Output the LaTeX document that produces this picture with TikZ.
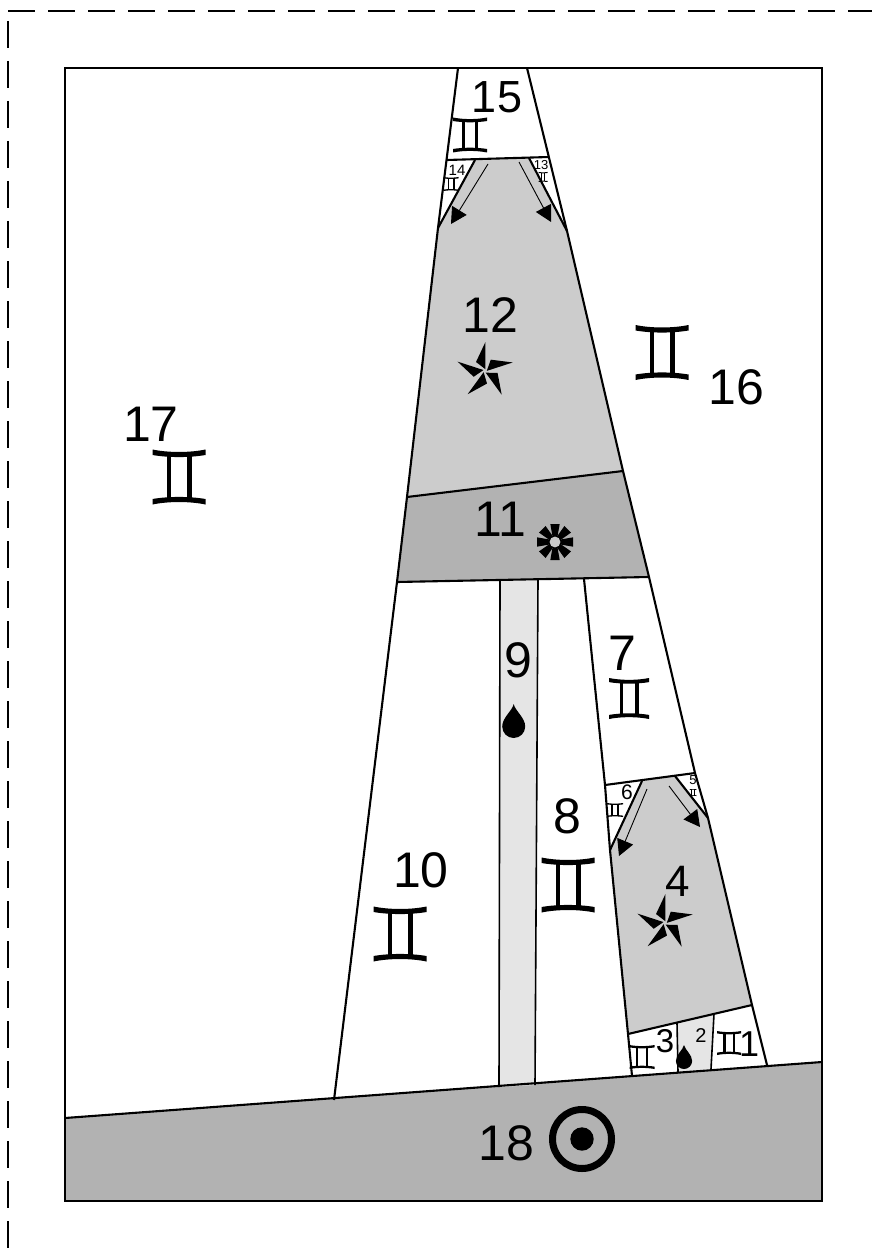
\documentclass[tikz,border=0pt]{standalone}
\usepackage{fontspec}
\setmainfont{Liberation Sans}
\usetikzlibrary{arrows.meta}
\definecolor{midgray}{HTML}{CCCCCC}
\definecolor{darkband}{HTML}{B2B2B2}
\definecolor{lightband}{HTML}{E5E5E5}
\tikzset{
  lab/.style={inner sep=0pt,font=\fontsize{#1}{#1}\selectfont},
  edge/.style={draw=black,line width=2.1pt,line join=miter},
  thin edge/.style={draw=black,line width=1.6pt},
  flow/.style={draw=black,line width=0.9pt,-{Triangle[length=16pt,width=17pt]}},
  pics/gemsym/.style={code={
    \fill (-.5,-.5) .. controls (-.2,-.44) and (.2,-.44) .. (.5,-.5) -- (.5,-.40) .. controls (.2,-.35) and (-.2,-.35) .. (-.5,-.40) -- cycle;
    \fill (-.5,.5) .. controls (-.2,.44) and (.2,.44) .. (.5,.5) -- (.5,.40) .. controls (.2,.35) and (-.2,.35) .. (-.5,.40) -- cycle;
    \fill (-.23,-.4) rectangle (-.145,.4);
    \fill (.15,-.4) rectangle (.24,.4);
  }},
  pics/pinstar/.style={code={
    \foreach \a in {0,72,144,216,288}{
      \fill[rotate=\a] (.015,-1) -- (.015,-.06) -- (-.31,-.31) -- cycle;
    }
  }},
  pics/dropsym/.style={code={
    \fill (0,-.5) .. controls (.04,-.3) and (.338,-.1) .. (.338,.162)
      .. controls (.338,.349) and (.187,.5) .. (0,.5)
      .. controls (-.187,.5) and (-.338,.349) .. (-.338,.162)
      .. controls (-.338,-.1) and (-.04,-.3) .. (0,-.5) -- cycle;
  }},
  pics/spokes/.style={code={
    \foreach \a in {0,45,...,315}{
      \fill[rotate=\a] (-.12,-.2) -- (.12,-.2) -- (.26,-1) -- (-.26,-1) -- cycle;
    }
    \fill[fill=darkband!70!white] (0,0) circle[radius=.3];
  }},
}
\begin{document}
\begin{tikzpicture}[x=1pt,y=-1pt]
\useasboundingbox (0,0) rectangle (872,1257);
% page fold
\draw[line width=2.6pt,dash pattern=on 27pt off 13pt] (8,11) -- (872,11);
\draw[line width=2.6pt,dash pattern=on 27pt off 13pt] (8,21) -- (8,1257);
% filled regions
\fill[darkband] (65,1118) -- (822,1062) -- (822,1201) -- (65,1201) -- cycle;
\fill[midgray] (475,160) -- (529,158) -- (567,231) -- (623,471) -- (407,497) -- (438,228) -- cycle;
\fill[darkband] (407,497) -- (623,471) -- (649,577) -- (397,582) -- cycle;
\fill[lightband] (500,581) -- (538,580) -- (535,1085) -- (499,1087) -- cycle;
\fill[midgray] (642,781) -- (675,776) -- (708,818) -- (752,1005) -- (628,1034) -- (610,850) -- cycle;
\fill[lightband] (677,1023) -- (714,1014) -- (711,1069) -- (678,1072) -- cycle;
% outlines
\draw[edge] (65,68) rectangle (822,1201);
\draw[edge] (65,1118) -- (822,1062);
\draw[edge] (458,68) -- (438,228) -- (407,497) -- (397,582) -- (334,1100);
\draw[edge] (527,68) -- (567,231) -- (623,471) -- (649,577) -- (695,773) -- (708,818) -- (752,1005) -- (767,1065);
\draw[edge] (447,160) -- (549,157);
\draw[edge] (475,160) -- (438,228);
\draw[edge] (529,158) -- (567,231);
\draw[edge] (407,497) -- (623,471);
\draw[edge] (397,582) -- (649,577);
\draw[thin edge] (500,581) -- (499,1087);
\draw[thin edge] (538,580) -- (535,1085);
\draw[edge] (584,579) -- (605,785) -- (610,850) -- (628,1034) -- (632,1076);
\draw[edge] (605,785) -- (695,773);
\draw[edge] (642,781) -- (610,850);
\draw[edge] (675,776) -- (708,818);
\draw[edge] (628,1034) -- (752,1005);
\draw[thin edge] (677,1023) -- (678,1072);
\draw[thin edge] (714,1014) -- (711,1069);
% arrows
\coordinate (a1s) at (488,164); \coordinate (a1e) at (451,224);
\coordinate (a2s) at (519,162); \coordinate (a2e) at (551,222);
\coordinate (a3s) at (647,789); \coordinate (a3e) at (619,856);
\coordinate (a4s) at (669,786); \coordinate (a4e) at (700,827);
\draw[flow] (a1s) -- (a1e);
\draw[flow] (a2s) -- (a2e);
\draw[flow] (a3s) -- (a3e);
\draw[flow] (a4s) -- (a4e);
% labels
\node[lab=45] (l15) at (497,97) {15};
\node[lab=15] (l14) at (457,170) {14};
\node[lab=13] (l13) at (541,165) {13};
\node[lab=50] (l12) at (490,315) {12};
\node[lab=50] (l11) at (500,519) {11};
\node[lab=50] (l16) at (736,387) {16};
\node[lab=50] (l17) at (151,424) {17};
\node[lab=50] (l10) at (421,870) {10};
\node[lab=50] (l9) at (518,660) {9};
\node[lab=50] (l8) at (567,816) {8};
\node[lab=50] (l7) at (622,653) {7};
\node[lab=21] (l6) at (627,792) {6};
\node[lab=13] (l5) at (693,780) {5};
\node[lab=44] (l4) at (678,881) {4};
\node[lab=33] (l3) at (665,1041) {3};
\node[lab=20] (l2) at (701,1036) {2};
\node[lab=36] (l1) at (749,1044) {1};
\node[lab=50] (l18) at (506,1143) {18};
% gemini signs
\pic[xscale=34,yscale=35] at (470,135) {gemsym};
\pic[xscale=15,yscale=14] at (451,184) {gemsym};
\pic[xscale=9,yscale=10] at (543,177) {gemsym};
\pic[xscale=53,yscale=55] at (662,352.5) {gemsym};
\pic[xscale=53,yscale=55] at (179,477) {gemsym};
\pic[xscale=53,yscale=55] at (400,934) {gemsym};
\pic[xscale=53,yscale=55] at (568,885) {gemsym};
\pic[xscale=40,yscale=41] at (629,698.5) {gemsym};
\pic[xscale=16,yscale=14] at (615,810) {gemsym};
\pic[xscale=7,yscale=7] at (693,792.5) {gemsym};
\pic[xscale=25,yscale=24] at (642,1057) {gemsym};
\pic[xscale=24,yscale=24] at (729,1043) {gemsym};
% other signs
\pic[scale=29] at (485,371) {pinstar};
\pic[scale=29] at (665,923) {pinstar};
\pic[scale=34] at (513.7,721) {dropsym};
\pic[scale=24] at (684,1057) {dropsym};
\pic[scale=18] at (555,542) {spokes};
\draw[line width=7pt] (582,1139) circle[radius=29.5];
\fill (582,1139) circle[radius=11.7];
\end{tikzpicture}
\end{document}
